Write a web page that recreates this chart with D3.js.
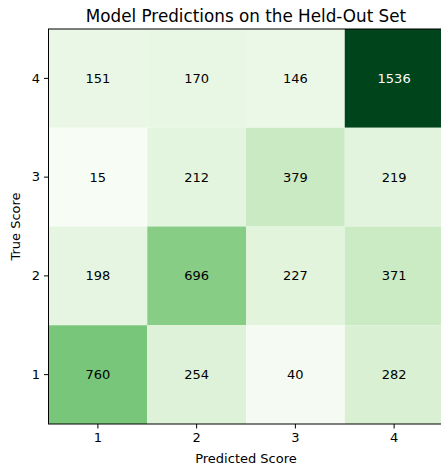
<!DOCTYPE html>
<html>
<head>
<meta charset="utf-8">
<script src="https://cdn.jsdelivr.net/npm/d3@7"></script>
<style>
  html, body { margin: 0; padding: 0; background: #fff; }
  svg { display: block; font-family: "DejaVu Sans", sans-serif; }
</style>
</head>
<body>
<script>
// Confusion matrix: rows = true score, columns = predicted score
const predictedScores = [1, 2, 3, 4];
const trueScores = [4, 3, 2, 1]; // top to bottom
const countsTrue4 = [151, 170, 146, 1536];
const countsTrue3 = [15, 212, 379, 219];
const countsTrue2 = [198, 696, 227, 371];
const countsTrue1 = [760, 254, 40, 282];
const rows = [countsTrue4, countsTrue3, countsTrue2, countsTrue1];

const width = 441, height = 466;
const margin = { left: 48.5, top: 29 };
const cell = 98.75;
const fs = 13;

const svg = d3.select("body").append("svg")
  .attr("width", width).attr("height", height);

const x = d3.scaleBand().domain(predictedScores).range([margin.left, margin.left + cell * 4]);
const y = d3.scaleBand().domain(trueScores).range([margin.top, margin.top + cell * 4]);

// Greens colormap, piecewise linear between the ColorBrewer stops
const greens = ["#f7fcf5","#e5f5e0","#c7e9c0","#a1d99b","#74c476","#41ab5d","#238b45","#006d2c","#00441b"];
const all = rows.flat();
const vmin = d3.min(all), vmax = d3.max(all);
const color = d3.scaleLinear()
  .domain(greens.map((_, i) => vmin + (vmax - vmin) * i / (greens.length - 1)))
  .range(greens)
  .interpolate(d3.interpolateRgb);

const cells = [];
rows.forEach((r, i) => r.forEach((v, j) => cells.push({ t: trueScores[i], p: predictedScores[j], v })));

svg.append("g").selectAll("rect").data(cells).join("rect")
  .attr("x", d => x(d.p)).attr("y", d => y(d.t))
  .attr("width", x.bandwidth()).attr("height", y.bandwidth())
  .attr("fill", d => color(d.v));

svg.append("g").selectAll("text").data(cells).join("text")
  .attr("x", d => x(d.p) + x.bandwidth() / 2)
  .attr("y", d => y(d.t) + y.bandwidth() / 2)
  .attr("text-anchor", "middle").attr("dominant-baseline", "central")
  .attr("font-size", fs)
  .attr("fill", d => (d.v - vmin) / (vmax - vmin) > 0.5 ? "#fff" : "#000")
  .text(d => d.v);

// Axes
const xAxis = d3.axisBottom(x).tickSizeOuter(0).tickSize(4.5).tickPadding(4);
const yAxis = d3.axisLeft(y).tickSizeOuter(0).tickSize(4.5).tickPadding(4);

const gx = svg.append("g").attr("transform", `translate(0,${margin.top + cell * 4})`).call(xAxis);
const gy = svg.append("g").attr("transform", `translate(${margin.left},0)`).call(yAxis);
[gx, gy].forEach(g => {
  g.select(".domain").remove();
  g.selectAll("text").attr("font-size", fs).attr("font-family", "DejaVu Sans").attr("fill", "#000");
  g.selectAll("line").attr("stroke", "#000");
});

// Frame
svg.append("rect")
  .attr("x", margin.left).attr("y", margin.top)
  .attr("width", cell * 4).attr("height", cell * 4)
  .attr("fill", "none").attr("stroke", "#000").attr("stroke-width", 1);

svg.append("text")
  .attr("x", margin.left + cell * 2).attr("y", 22)
  .attr("text-anchor", "middle").attr("font-size", 16.8)
  .text("Model Predictions on the Held-Out Set");

svg.append("text")
  .attr("x", margin.left + cell * 2).attr("y", 463)
  .attr("text-anchor", "middle").attr("font-size", fs)
  .text("Predicted Score");

svg.append("text")
  .attr("transform", `translate(20,${margin.top + cell * 2}) rotate(-90)`)
  .attr("text-anchor", "middle").attr("font-size", fs)
  .text("True Score");
</script>
</body>
</html>
